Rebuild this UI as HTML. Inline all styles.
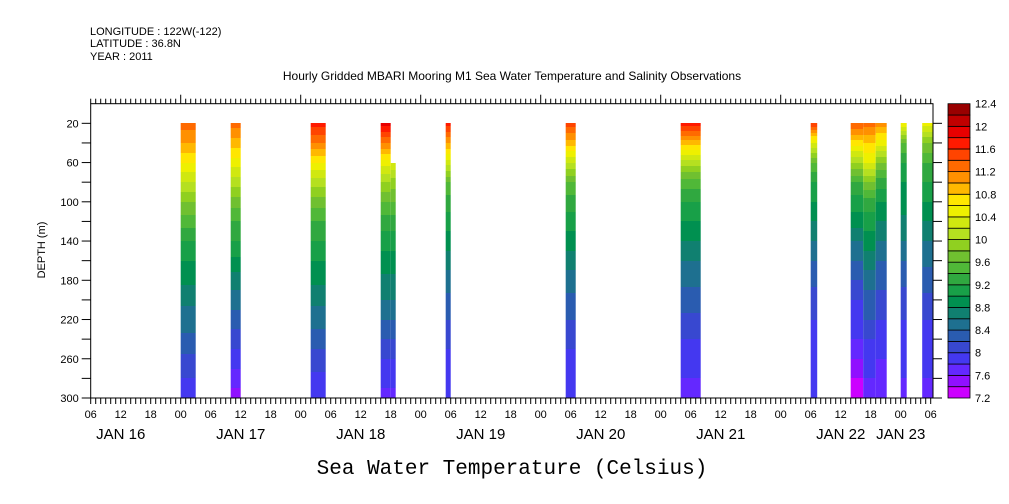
<!DOCTYPE html>
<html><head><meta charset="utf-8"><style>
body{margin:0;background:#fff;width:1009px;height:504px;overflow:hidden}
svg{display:block;font-family:"Liberation Sans",sans-serif}
</style></head><body>
<svg id="c" width="1009" height="504">
<text x="90" y="35" font-size="11">LONGITUDE : 122W(-122)</text>
<text x="90" y="47" font-size="11">LATITUDE : 36.8N</text>
<text x="90" y="60" font-size="11">YEAR : 2011</text>
<text x="512" y="80" font-size="12" text-anchor="middle">Hourly Gridded MBARI Mooring M1 Sea Water Temperature and Salinity Observations</text>
<text transform="translate(45,250) rotate(-90)" font-size="11" text-anchor="middle">DEPTH (m)</text>
<text x="512" y="474" font-size="21" font-family="Liberation Mono, monospace" text-anchor="middle">Sea Water Temperature (Celsius)</text>
<g id="plot"></g>
</svg>
<script>
const depths=[20,40,60,80,100,120,140,160,180,200,220,240,260,280,300];
const blockStart=[24,34,50,64,66,77,101,124,150,158,160.5,163,168,172.3];
const blockEnd=[27,36,53,66,67,78,103,128,151.3,160.5,163,165.2,169.2,174.5];
const blockTopDepth=[20,20,20,20,60,20,20,20,20,20,20,20,20,20];
const profiles=[
[11.3,11.0,10.6,10.2,9.8,9.5,9.2,9.0,8.85,8.65,8.5,8.35,8.15,8.0,7.85],
[11.3,10.9,10.5,10.1,9.7,9.4,9.2,8.95,8.7,8.5,8.3,8.1,7.9,7.7,7.5],
[11.7,11.2,10.6,10.1,9.7,9.4,9.2,9.0,8.85,8.65,8.5,8.3,8.1,7.95,7.8],
[11.9,11.2,10.5,10.0,9.6,9.3,9.1,8.9,8.75,8.6,8.4,8.2,8.0,7.85,7.75],
[11.9,11.2,10.4,9.9,9.6,9.3,9.1,8.9,8.75,8.6,8.4,8.2,8.0,7.85,7.75],
[11.7,11.0,10.3,9.6,9.3,9.1,8.9,8.7,8.5,8.35,8.2,8.05,7.95,7.9,7.8],
[11.5,10.9,10.2,9.6,9.3,9.1,8.9,8.7,8.5,8.35,8.2,8.05,7.95,7.9,7.85],
[11.7,10.9,10.1,9.5,9.2,9.0,8.8,8.6,8.45,8.3,8.15,8.0,7.9,7.8,7.75],
[11.6,10.4,9.6,9.2,9.0,8.8,8.6,8.4,8.25,8.1,8.0,7.95,7.9,7.85,7.8],
[11.4,10.7,10.0,9.4,9.1,8.9,8.6,8.4,8.2,8.0,7.9,7.8,7.6,7.4,7.3],
[11.3,10.8,10.4,9.8,9.3,9.1,8.9,8.7,8.5,8.3,8.2,8.0,7.9,7.8,7.7],
[11.1,10.5,9.8,9.3,9.0,8.8,8.6,8.4,8.3,8.1,8.0,7.9,7.8,7.8,7.7],
[10.6,9.6,9.2,9.0,8.9,8.75,8.6,8.4,8.25,8.1,8.0,7.95,7.9,7.8,7.7],
[10.5,9.8,9.4,9.2,9.0,8.8,8.6,8.45,8.3,8.15,8.0,7.95,7.9,7.8,7.7]];
const levelLabels=["7.2","7.6","8","8.4","8.8","9.2","9.6","10","10.4","10.8","11.2","11.6","12","12.4"];
const yTicks=[20,60,100,140,180,220,260,300];
const xTickLabels=["06","12","18","00"];
const dayLabels=["JAN 16","JAN 17","JAN 18","JAN 19","JAN 20","JAN 21","JAN 22","JAN 23"];
const colors=["#cc00ff","#9010ff","#6428ff","#4438f0","#3848d0","#2a5cb0","#1e7090","#108070","#009050","#18a048","#30a840","#50b838","#70c030","#90d020","#b5e020","#d0e810","#eef000","#ffe600","#ffb800","#ff9000","#ff6a00","#ff4400","#ff1a00","#e80000","#c00000","#990000"];
const L=90.7,R=933,T=103.7,B=398;
const xs=h=>L+(h-6)*5;
const ys=d=>T+d*(B-T)/300;
const NS="http://www.w3.org/2000/svg";
const g=document.getElementById('plot');
function mk(tag,a){const e=document.createElementNS(NS,tag);for(const k in a)e.setAttribute(k,a[k]);g.appendChild(e);return e;}
function col(t){let i=Math.floor((t-7.2)/0.2);i=Math.max(0,Math.min(25,i));return colors[i];}
function interp(p,d){let i=Math.min(13,Math.max(0,Math.floor((d-20)/20)));const f=(d-depths[i])/20;return p[i]+(p[i+1]-p[i])*f;}
for(let b=0;b<blockStart.length;b++){
  const x0=xs(blockStart[b]),x1=xs(blockEnd[b]);
  for(let y=Math.round(ys(blockTopDepth[b]));y<B;y++){
    const d=(y+0.5-T)*300/(B-T);
    const r=mk('rect',{x:x0,y:y,width:x1-x0,height:1.05,fill:col(interp(profiles[b],d))});
    
    
  }
}
const frame=mk('rect',{x:L,y:T,width:R-L,height:B-T,fill:'none',stroke:'#000','stroke-width':1});


for(let d=20;d<=300;d+=20){
  mk('line',{x1:L-9,x2:L,y1:ys(d),y2:ys(d),stroke:'#000'});
  mk('line',{x1:R,x2:R+9,y1:ys(d),y2:ys(d),stroke:'#000'});
}
yTicks.forEach(d=>{const t=mk('text',{x:L-12,y:ys(d)+4,'font-size':11,'text-anchor':'end'});t.textContent=d;

});
for(let h=6;h<=174;h++){
  const x=xs(h);if(x>R+0.5)break;
  mk('line',{x1:x,x2:x,y1:B,y2:B+6,stroke:'#000'});
  mk('line',{x1:x,x2:x,y1:T,y2:T-(h%24==0?9:5),stroke:'#000'});
  if(h%6==0){const t=mk('text',{x:x,y:B+20,'font-size':11,'text-anchor':'middle'});t.textContent=xTickLabels[(h/6-1)%4];
  
  }
}
dayLabels.forEach((s,i)=>{const x=i<7?xs(12+24*i):xs(168);const t=mk('text',{x:x,y:B+41,'font-size':15,'text-anchor':'middle'});t.textContent=s;

});
const cx=948,cw=22,ch=(B-T)/26;
colors.forEach((c,i)=>{const r=mk('rect',{x:cx,y:B-(i+1)*ch,width:cw,height:ch,fill:c,stroke:'#000','stroke-width':0.8});

});
levelLabels.forEach((s,i)=>{const t=mk('text',{x:cx+cw+5,y:B-i*2*ch+4,'font-size':11});t.textContent=s;

});
</script>
</body></html>
